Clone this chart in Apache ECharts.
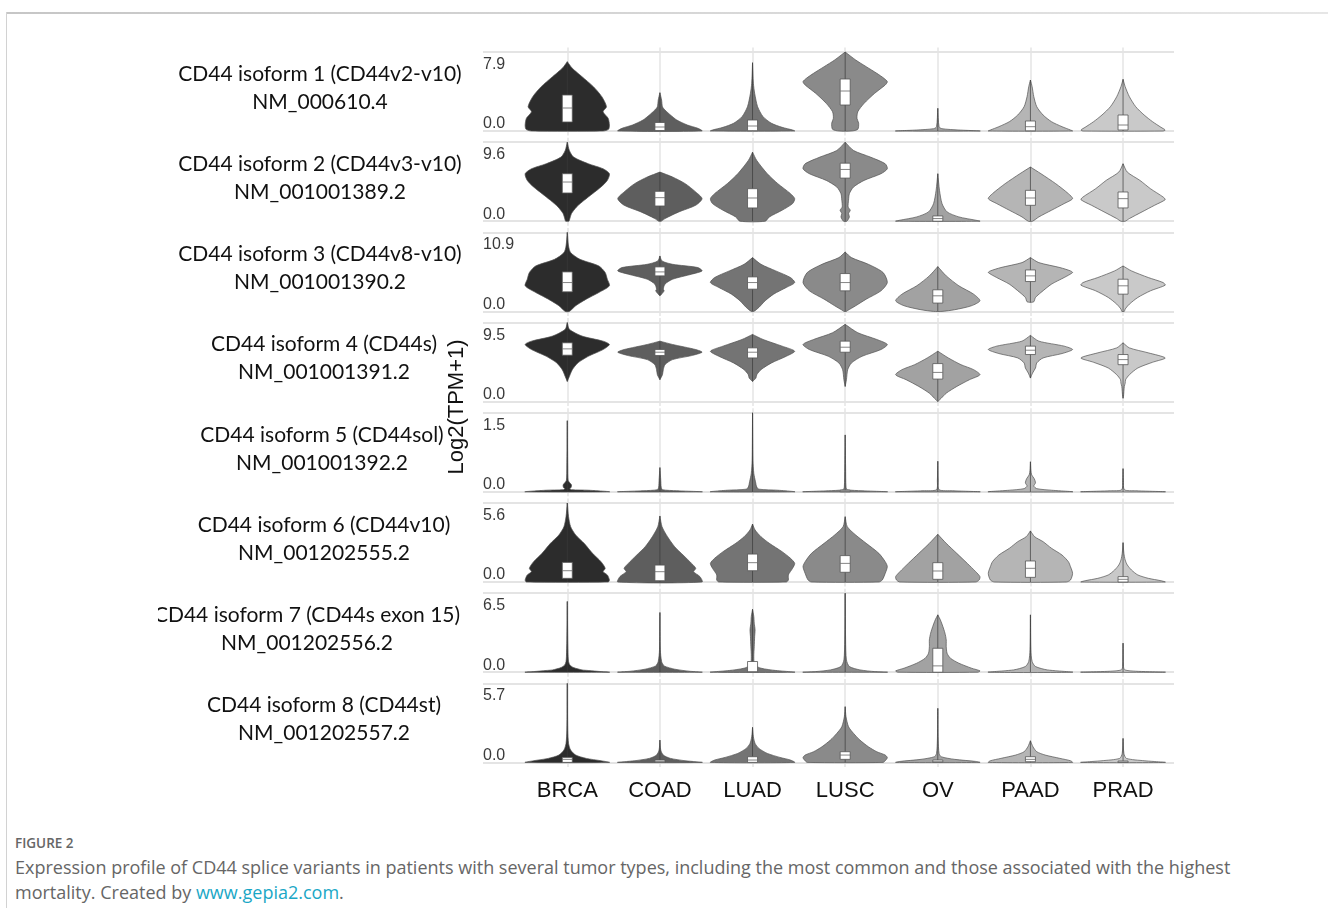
<!DOCTYPE html>
<html><head><meta charset="utf-8">
<script src="https://cdn.jsdelivr.net/npm/echarts@6/dist/echarts.min.js"></script>
<style>
html,body{margin:0;padding:0;background:#fff;width:1328px;height:908px;overflow:hidden;}
#topline{position:absolute;left:6px;top:12px;width:1322px;height:2px;background:linear-gradient(to right,#c6c6c6,#e6e6e6);}
#leftline{position:absolute;left:6px;top:12px;width:1px;height:896px;background:#d2d2d2;}
#chart{position:absolute;left:158px;top:0;width:1170px;height:830px;}
#cap{position:absolute;left:15px;top:834px;font-family:"Open Sans",Lato,sans-serif;color:#666;}
#cap .fig{font-size:13.5px;line-height:18px;font-weight:600;color:#666;}
#cap .txt{font-size:18px;line-height:25px;margin-top:3px;}
#cap a{color:#1aa7c6;text-decoration:none;}
</style></head>
<body>
<div id="topline"></div><div id="leftline"></div>
<div id="chart"></div>
<div id="cap"><div class="fig">FIGURE 2</div><div class="txt">Expression profile of CD44 splice variants in patients with several tumor types, including the most common and those associated with the highest<br>mortality. Created by <a>www.gepia2.com</a>.</div></div>
<script>
// ---------- DATA ----------
const categories = ['BRCA','COAD','LUAD','LUSC','OV','PAAD','PRAD'];
const isoformNames = ['CD44 isoform 1 (CD44v2-v10)','CD44 isoform 2 (CD44v3-v10)','CD44 isoform 3 (CD44v8-v10)','CD44 isoform 4 (CD44s)','CD44 isoform 5 (CD44sol)','CD44 isoform 6 (CD44v10)','CD44 isoform 7 (CD44s exon 15)','CD44 isoform 8 (CD44st)'];
const transcriptIds = ['NM_000610.4','NM_001001389.2','NM_001001390.2','NM_001001391.2','NM_001001392.2','NM_001202555.2','NM_001202556.2','NM_001202557.2'];
const yMaxLabels = [7.9, 9.6, 10.9, 9.5, 1.5, 5.6, 6.5, 5.7];
const yAxisTitle = 'Log2(TPM+1)';

// violin outlines per row: for each cancer, [log2(TPM+1) value, relative density width]
const outlinesIso1 = [
  [[0,0.85],[0.17,0.98],[0.6,1],[1.27,0.97],[1.93,0.85],[2.43,0.93],[3.43,0.82],[4.43,0.62],[5.43,0.35],[6.27,0.12],[6.93,0]],
  [[0,1],[0.27,0.9],[0.6,0.65],[1.1,0.4],[1.6,0.25],[2.1,0.12],[2.43,0.06],[3.1,0.04],[3.83,0]],
  [[0,1],[0.1,0.95],[0.37,0.7],[0.77,0.45],[1.43,0.25],[2.43,0.12],[3.77,0.05],[4.77,0.02],[6.83,0]],
  [[0,0.15],[0.17,0.3],[0.77,0.32],[1.27,0.28],[1.93,0.3],[2.77,0.45],[3.77,0.7],[4.6,0.95],[4.93,1],[5.27,0.92],[5.77,0.75],[6.43,0.5],[7.1,0.25],[7.9,0]],
  [[0,1],[0.1,0.5],[0.23,0.1],[0.43,0.03],[2.27,0]],
  [[0,1],[0.1,0.95],[0.43,0.75],[0.93,0.5],[1.6,0.3],[2.43,0.15],[3.43,0.08],[4.43,0.04],[5.1,0]],
  [[0,0.95],[0.1,1],[0.37,0.9],[0.93,0.7],[1.6,0.5],[2.43,0.3],[3.43,0.15],[4.43,0.05],[5.17,0]]
];
const outlinesIso2 = [
  [[0,0.04],[0.12,0.05],[0.93,0.1],[1.73,0.22],[2.54,0.4],[3.35,0.6],[4.16,0.8],[4.96,0.95],[5.77,1],[6.37,0.85],[6.98,0.5],[7.79,0.15],[8.59,0.05],[9.6,0]],
  [[0,0.03],[0.32,0.12],[1.13,0.45],[1.94,0.85],[2.74,1],[3.55,0.85],[4.56,0.6],[5.37,0.3],[5.97,0]],
  [[0,0.3],[0.52,0.4],[1.33,0.7],[2.14,0.95],[2.74,1],[3.35,0.9],[4.56,0.6],[5.77,0.35],[7.38,0.1],[8.39,0]],
  [[0,0.04],[0.52,0.1],[0.93,0.08],[1.33,0.12],[1.73,0.07],[2.54,0.08],[3.35,0.1],[4.16,0.2],[4.96,0.45],[5.77,0.85],[6.37,1],[6.98,0.95],[7.79,0.6],[8.59,0.2],[9.6,0]],
  [[0,1],[0.12,0.9],[0.52,0.5],[1.13,0.22],[2.14,0.1],[3.75,0.04],[5.77,0]],
  [[0,0.05],[0.52,0.2],[1.33,0.5],[2.14,0.8],[2.74,1],[3.35,0.9],[4.56,0.6],[5.77,0.25],[6.58,0]],
  [[0,0.05],[0.32,0.15],[1.13,0.45],[1.94,0.75],[2.62,1],[2.94,0.95],[3.95,0.65],[4.96,0.4],[5.97,0.1],[6.98,0]]
];
const outlinesIso3 = [
  [[0,0.05],[0.78,0.2],[1.69,0.45],[2.61,0.75],[3.53,1],[4.44,0.95],[5.36,0.9],[6.27,0.75],[7.19,0.3],[8.11,0.08],[9.02,0.03],[10.9,0]],
  [[2.15,0],[2.38,0.04],[2.84,0.1],[3.07,0.08],[3.76,0.12],[4.44,0.3],[5.13,0.75],[5.59,1],[6.05,0.9],[6.5,0.3],[6.96,0.05],[7.65,0]],
  [[0,0.03],[0.55,0.15],[1.47,0.3],[2.38,0.5],[3.3,0.8],[3.98,1],[4.67,0.9],[5.59,0.55],[6.5,0.2],[7.42,0]],
  [[0,0.03],[0.09,0.05],[0.78,0.25],[1.69,0.5],[2.84,0.85],[3.98,1],[5.36,0.9],[6.5,0.55],[7.42,0.15],[8.2,0]],
  [[0,0.1],[0.23,0.4],[0.78,0.8],[1.47,1],[2.38,0.85],[3.53,0.5],[4.9,0.2],[6.18,0]],
  [[1.24,0],[1.33,0.08],[1.92,0.12],[2.61,0.25],[3.76,0.5],[4.67,0.8],[5.36,1],[5.59,0.95],[6.05,0.7],[6.73,0.2],[7.42,0]],
  [[0,0.03],[0.32,0.05],[1.0,0.15],[1.92,0.35],[2.84,0.65],[3.62,1],[3.98,0.95],[4.67,0.6],[5.59,0.2],[6.27,0]]
];
const outlinesIso4 = [
  [[2.42,0],[3.03,0.05],[3.84,0.12],[4.65,0.25],[5.45,0.5],[6.26,0.85],[6.87,1],[7.27,0.85],[7.88,0.35],[8.69,0.05],[9.5,0]],
  [[2.63,0],[3.23,0.06],[3.84,0.08],[4.44,0.12],[5.05,0.3],[5.53,0.75],[5.94,1],[6.26,0.85],[6.87,0.3],[7.27,0]],
  [[2.42,0],[2.83,0.08],[3.23,0.1],[3.84,0.2],[4.65,0.45],[5.45,0.8],[6.06,1],[6.67,0.7],[7.47,0.25],[8.08,0]],
  [[1.82,0],[2.63,0.03],[3.84,0.06],[4.65,0.15],[5.45,0.4],[6.26,0.85],[6.87,1],[7.47,0.75],[8.28,0.3],[9.29,0]],
  [[0,0],[0.4,0.08],[1.01,0.2],[1.82,0.45],[2.63,0.75],[3.23,1],[3.84,0.85],[4.44,0.55],[5.25,0.25],[6.06,0]],
  [[2.83,0],[3.43,0.05],[4.04,0.12],[4.65,0.15],[5.25,0.3],[5.78,0.75],[6.26,1],[6.67,0.8],[7.27,0.2],[7.96,0]],
  [[0.4,0],[0.61,0.01],[1.82,0.03],[2.22,0.05],[2.63,0.06],[3.23,0.15],[4.04,0.35],[4.73,0.7],[5.25,1],[5.86,0.6],[6.46,0.15],[7.07,0]]
];
const outlinesIso5 = [
  [[0,1],[0.03,0.5],[0.04,0.1],[0.06,0.06],[0.08,0.09],[0.13,0.1],[0.17,0.06],[0.22,0.02],[0.47,0.01],[1.35,0]],
  [[0,1],[0.02,0.4],[0.04,0.06],[0.09,0.03],[0.22,0.02],[0.46,0]],
  [[0,1],[0.03,0.6],[0.05,0.15],[0.09,0.1],[0.19,0.07],[0.35,0.03],[0.6,0.01],[1.5,0]],
  [[0,1],[0.02,0.4],[0.04,0.05],[0.09,0.02],[0.47,0.01],[1.08,0]],
  [[0,1],[0.02,0.35],[0.04,0.03],[0.22,0.01],[0.58,0]],
  [[0,1],[0.03,0.5],[0.06,0.15],[0.11,0.08],[0.17,0.12],[0.25,0.09],[0.32,0.03],[0.41,0.01],[0.57,0]],
  [[0,1],[0.02,0.3],[0.04,0.03],[0.22,0.01],[0.44,0]]
];
const outlinesIso6 = [
  [[0,0.97],[0.14,1],[0.5,0.95],[0.73,0.85],[0.97,0.9],[1.44,0.8],[2.03,0.6],[2.74,0.4],[3.33,0.2],[3.92,0.08],[4.63,0.03],[5.6,0]],
  [[0,1],[0.38,0.95],[0.73,0.8],[0.97,0.85],[1.32,0.75],[1.91,0.55],[2.5,0.35],[3.21,0.18],[3.92,0.05],[4.68,0]],
  [[0,0.8],[0.14,0.85],[0.5,0.85],[0.97,0.95],[1.32,1],[1.68,0.9],[2.15,0.7],[2.74,0.4],[3.21,0.2],[3.69,0.06],[4.11,0]],
  [[0,0.8],[0.14,0.88],[0.61,0.95],[1.09,1],[1.44,0.95],[2.03,0.8],[2.74,0.5],[3.33,0.25],[3.92,0.05],[4.63,0]],
  [[0,0.9],[0.14,0.98],[0.38,1],[0.73,0.9],[1.32,0.7],[2.03,0.45],[2.74,0.2],[3.38,0]],
  [[0,0.85],[0.14,0.95],[0.61,1],[1.09,0.95],[1.44,0.9],[1.91,0.75],[2.39,0.5],[2.86,0.3],[3.21,0.1],[3.62,0]],
  [[0,1],[0.09,0.9],[0.26,0.6],[0.5,0.35],[0.85,0.2],[1.21,0.1],[1.56,0.05],[2.03,0.02],[2.79,0]]
];
const outlinesIso7 = [
  [[0,1],[0.05,0.8],[0.14,0.5],[0.19,0.35],[0.38,0.15],[0.6,0.06],[0.88,0.03],[1.29,0.02],[2.66,0.01],[5.82,0]],
  [[0,1],[0.08,0.7],[0.25,0.35],[0.52,0.1],[0.88,0.04],[1.84,0.01],[4.91,0]],
  [[0,1],[0.14,0.55],[0.33,0.2],[0.6,0.05],[1.29,0.03],[2.11,0.04],[2.94,0.05],[3.48,0.06],[4.03,0.04],[4.58,0.03],[5.18,0]],
  [[0,1],[0.05,0.7],[0.19,0.35],[0.47,0.1],[1.01,0.03],[2.66,0.01],[6.5,0]],
  [[0,0.95],[0.11,1],[0.33,0.8],[0.74,0.5],[1.15,0.3],[1.56,0.22],[2.11,0.2],[2.66,0.2],[3.21,0.17],[3.76,0.12],[4.31,0.06],[4.72,0]],
  [[0,1],[0.19,0.4],[0.47,0.12],[0.88,0.04],[1.84,0.01],[4.72,0]],
  [[0,1],[0.08,0.3],[0.19,0.04],[0.47,0.01],[2.39,0]]
];
const outlinesIso8 = [
  [[0,1],[0.12,0.8],[0.29,0.45],[0.53,0.2],[0.89,0.08],[1.37,0.03],[2.33,0.01],[5.7,0]],
  [[0,1],[0.12,0.6],[0.29,0.25],[0.53,0.08],[0.89,0.02],[1.61,0]],
  [[0,1],[0.17,0.9],[0.36,0.65],[0.65,0.35],[1.01,0.15],[1.37,0.06],[1.85,0.02],[2.53,0]],
  [[0,0.9],[0.12,0.95],[0.34,1],[0.53,0.95],[0.77,0.75],[1.13,0.55],[1.61,0.35],[2.09,0.2],[2.57,0.08],[3.29,0.02],[4.02,0]],
  [[0,1],[0.07,0.9],[0.22,0.4],[0.41,0.08],[0.65,0.03],[1.61,0.01],[3.9,0]],
  [[0,1],[0.12,0.95],[0.29,0.7],[0.53,0.35],[0.77,0.15],[1.13,0.06],[1.56,0]],
  [[0,1],[0.12,0.5],[0.29,0.08],[0.65,0.02],[1.73,0]]
];
// box plots per row: [Q1, median, Q3] (null = collapsed at 0)
const boxesIso1 = [[0.9,2.3,3.6],[0.05,0.4,0.85],[0.03,0.5,1.1],[2.6,4.0,5.2],null,[0.02,0.43,1.0],[0.1,0.6,1.6]];
const boxesIso2 = [[3.43,4.76,5.77],[1.85,2.86,3.63],[1.61,2.82,3.95],[5.24,6.29,7.05],[0,0.32,0.64],[1.93,2.82,3.75],[1.61,2.74,3.55]];
const boxesIso3 = [[2.7,3.98,5.45],[4.9,5.45,6.14],[3.07,3.98,4.76],[2.84,3.98,5.22],[1.15,2.15,2.98],[4.12,4.9,5.72],[2.38,3.53,4.44]];
const boxesIso4 = [[5.58,6.34,7.07],[5.54,5.94,6.26],[5.25,5.94,6.46],[5.94,6.54,7.27],[2.71,3.51,4.57],[5.66,6.18,6.67],[4.44,5.05,5.66]];
const boxesIso5 = [null,null,null,[0,0.01,0.03],null,null,null];
const boxesIso6 = [[0.26,0.8,1.39],[0.09,0.73,1.2],[0.8,1.37,1.98],[0.69,1.32,1.87],[0.19,0.78,1.37],[0.33,0.97,1.49],[0,0.19,0.38]];
const boxesIso7 = [null,null,[0,0.05,0.88],null,[0,0.52,1.97],null,null];
const boxesIso8 = [[0,0.22,0.36],[0,0.07,0.17],[0,0.17,0.41],[0.22,0.53,0.77],[0,0.05,0.17],[0.05,0.22,0.41],[0,0.02,0.1]];

// ---------- STYLE / LAYOUT ----------
const OUTLINES = [outlinesIso1,outlinesIso2,outlinesIso3,outlinesIso4,outlinesIso5,outlinesIso6,outlinesIso7,outlinesIso8];
const BOXES = [boxesIso1,boxesIso2,boxesIso3,boxesIso4,boxesIso5,boxesIso6,boxesIso7,boxesIso8];
const FILLS = ['#2c2c2c','#5e5e5e','#747474','#8a8a8a','#a2a2a2','#b5b5b5','#c9c9c9'];
const EDGE = '#505050';
const HALF_W = 0.455, BOX_HALF = 0.054;
const ROW_STEP = 90.2, PANEL_TOP = 52, PANEL_H = 79, PAD_PX = 4.5;
const GRID_LEFT = 325, GRID_W = 691;
const X_MIN = -0.91, X_MAX = 6.55;
const labelCenterX = [162,162,162,166,164,166,149,166];

const chart = echarts.init(document.getElementById('chart'), null, {renderer:'canvas'});
const grids = [], xAxes = [], yAxes = [], series = [], graphics = [];
const idx = categories.map((c,i)=>i);

for (let r = 0; r < 8; r++) {
  const M = yMaxLabels[r];
  const pad = PAD_PX / PANEL_H * M;
  const top = PANEL_TOP + ROW_STEP * r - PAD_PX;
  grids.push({left: GRID_LEFT, top: top, width: GRID_W, height: PANEL_H + 2*PAD_PX});
  xAxes.push({
    gridIndex: r, type: 'value', min: X_MIN, max: X_MAX,
    axisLine: {show:false},
    axisTick: {show:false, customValues: idx},
    splitLine: {show:true, lineStyle:{color:'#e4e4e4', width:1.5}},
    axisLabel: {show: r === 7, customValues: idx, formatter: v => categories[Math.round(v)],
      margin: 13, fontSize: 22, color: '#111', fontFamily: 'Liberation Sans'}
  });
  yAxes.push({
    gridIndex: r, type: 'value', min: -pad, max: M + pad,
    axisLine: {show:false},
    axisTick: {show:false, customValues: [0, M]},
    splitLine: {show:true, lineStyle:{color:'#e4e4e4', width:2}},
    axisLabel: {inside: true, margin: 0, customValues: [0, M],
      formatter: v => Math.abs(v) < 1e-9 ? '{b|0.0}' : '{t|' + M.toFixed(1) + '}',
      rich: {
        t: {padding:[25,0,0,0], fontSize:16, color:'#3a3a3a', fontFamily:'Liberation Sans'},
        b: {padding:[0,0,14,0], fontSize:16, color:'#3a3a3a', fontFamily:'Liberation Sans'}
      },
      fontSize: 16, color: '#3a3a3a', fontFamily: 'Liberation Sans'}
  });
  const row = r;
  series.push({
    type: 'custom', xAxisIndex: r, yAxisIndex: r,
    data: idx.map(i => [i]),
    clip: false,
    renderItem: function(params, api) {
      const j = api.value(0);
      const prof = OUTLINES[row][j];
      const left = [], right = [];
      prof.forEach(p => {
        left.push(api.coord([j - p[1]*HALF_W, p[0]]));
        right.push(api.coord([j + p[1]*HALF_W, p[0]]));
      });
      const pts = left.concat(right.reverse());
      const children = [{
        type: 'polygon', shape: {points: pts, smooth: 0.25},
        style: {fill: FILLS[j], stroke: EDGE, lineWidth: 0.7}
      }];
      const lo = api.coord([j, prof[0][0]]), hi = api.coord([j, prof[prof.length-1][0]]);
      children.push({type:'line', shape:{x1:lo[0], y1:lo[1], x2:hi[0], y2:hi[1]},
        style:{stroke:'#3a3a3a', lineWidth:0.7}});
      const b = BOXES[row][j];
      if (b) {
        const p1 = api.coord([j - BOX_HALF, b[2]]);
        const p2 = api.coord([j + BOX_HALF, b[0]]);
        children.push({type:'rect', shape:{x:p1[0], y:p1[1], width:p2[0]-p1[0], height:Math.max(p2[1]-p1[1],1)},
          style:{fill:'#ffffff', stroke:'#555', lineWidth:0.8}});
        const m1 = api.coord([j - BOX_HALF, b[1]]), m2 = api.coord([j + BOX_HALF, b[1]]);
        children.push({type:'line', shape:{x1:m1[0], y1:m1[1], x2:m2[0], y2:m2[1]},
          style:{stroke:'#666', lineWidth:0.8}});
      }
      return {type:'group', children: children};
    }
  });
  graphics.push({
    type: 'text', x: labelCenterX[r], y: PANEL_TOP + ROW_STEP*r + PANEL_H/2 - 3.5,
    style: {text: isoformNames[r] + '\n' + transcriptIds[r], fill:'#111', font:'21px Lato',
      align:'center', verticalAlign:'middle', lineHeight: 28}
  });
}
graphics.push({
  type:'text', x: 299, y: 407, rotation: Math.PI/2,
  style:{text: yAxisTitle, fill:'#111', font:'22px "Liberation Sans"', align:'center', verticalAlign:'middle'}
});

chart.setOption({
  animation: false,
  grid: grids, xAxis: xAxes, yAxis: yAxes, series: series, graphic: graphics
});
</script>
</body></html>
